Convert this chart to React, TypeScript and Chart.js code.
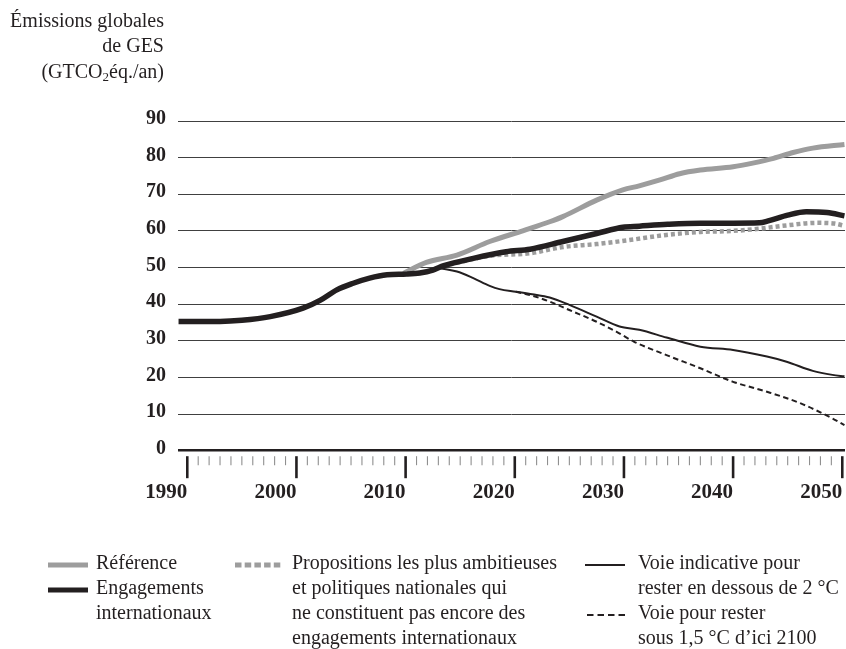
import React, { useEffect, useRef } from 'react';
import { Chart, registerables } from 'chart.js';

Chart.register(...registerables);

// ---- Data ----
const ENG_YEARS = [1989.2, 1993, 1995, 1997.6, 2000.6, 2002.2, 2003.7, 2005.2, 2006.7, 2008.3, 2010.1, 2011.3, 2012.5, 2013.5, 2016.2, 2019.2, 2021.4, 2024.4, 2027.5, 2029.9, 2031.4, 2034, 2037, 2040, 2042.4, 2043.3, 2045, 2046.7, 2048.6, 2050.2];
const ENG_VALUES = [35.3, 35.3, 35.6, 36.6, 38.9, 41.1, 43.9, 45.7, 47.1, 48.0, 48.2, 48.5, 49.3, 50.5, 52.5, 54.3, 55.0, 57.1, 59.3, 61.0, 61.3, 61.8, 62.1, 62.1, 62.2, 62.8, 64.3, 65.2, 65.0, 64.1];

const REF_YEARS = [2009.8, 2011.9, 2014.7, 2017.7, 2020.8, 2023.2, 2024.4, 2027.5, 2029.9, 2031.4, 2033.3, 2035.1, 2037, 2040, 2041.8, 2043.7, 2045.5, 2047.3, 2050.2];
const REF_VALUES = [48.4, 51.4, 53.4, 57.1, 60.1, 62.5, 63.9, 68.4, 71.2, 72.3, 73.9, 75.6, 76.6, 77.5, 78.5, 79.8, 81.4, 82.6, 83.6];

const PROP_YEARS = [2014, 2017.7, 2021.4, 2024.4, 2027.5, 2030.5, 2033.9, 2037, 2040, 2042.4, 2044.9, 2047.7, 2049.3, 2050.2];
const PROP_VALUES = [50.8, 53.2, 53.9, 55.6, 56.4, 57.5, 58.9, 59.7, 60.0, 60.6, 61.5, 62.2, 62.0, 61.4];

const C2_YEARS = [2013.2, 2014.7, 2016.2, 2017.7, 2018.6, 2020.1, 2021.6, 2023.2, 2025, 2027.5, 2029.6, 2031.4, 2033.9, 2037, 2040, 2043.1, 2044.9, 2047.3, 2049.1, 2050.2];
const C2_VALUES = [49.8, 48.9, 47.1, 45.0, 44.1, 43.4, 42.7, 41.8, 39.8, 36.6, 33.9, 33.0, 30.9, 28.4, 27.5, 25.7, 24.3, 21.8, 20.7, 20.3];

const C15_YEARS = [2020.1, 2021.6, 2023.2, 2025, 2027.5, 2029.3, 2030.9, 2033.9, 2037, 2040, 2043.1, 2046.2, 2049.1, 2050.2];
const C15_VALUES = [43.4, 42.3, 40.7, 38.4, 35.2, 32.5, 29.8, 26.1, 22.5, 18.8, 16.1, 12.9, 8.8, 7.0];

const Y_TICKS = [0, 10, 20, 30, 40, 50, 60, 70, 80, 90];
const X_TICKS = [1990, 2000, 2010, 2020, 2030, 2040, 2050];

const TITLE_LINES = ['Émissions globales', 'de GES'];
const LEGEND_REF = ['Référence'];
const LEGEND_ENG = ['Engagements', 'internationaux'];
const LEGEND_PROP = ['Propositions les plus ambitieuses', 'et politiques nationales qui', 'ne constituent pas encore des', 'engagements internationaux'];
const LEGEND_2C = ['Voie indicative pour', 'rester en dessous de 2 °C'];
const LEGEND_15C = ['Voie pour rester', 'sous 1,5 °C d’ici 2100'];

const FONT = "'Liberation Serif', 'Times New Roman', serif";
const INK = '#231f20';
const GREY = '#9d9d9d';

const toPts = (xs: number[], ys: number[]) => xs.map((x, i) => ({ x, y: ys[i] }));

const yearTicksPlugin = {
  id: 'yearTicks',
  afterDraw(chart: any) {
    const xs = chart.scales.x;
    const b = chart.chartArea.bottom;
    const ctx = chart.ctx;
    ctx.save();
    for (let yr = X_TICKS[0]; yr <= X_TICKS[X_TICKS.length - 1]; yr++) {
      const major = X_TICKS.includes(yr);
      const px = xs.getPixelForValue(yr);
      ctx.beginPath();
      ctx.strokeStyle = major ? INK : '#8f8f8f';
      ctx.lineWidth = major ? 2.6 : 1.1;
      ctx.moveTo(px, b + 5.5);
      ctx.lineTo(px, major ? b + 27.5 : b + 14.5);
      ctx.stroke();
    }
    ctx.restore();
  },
};

const ROW_H = 25;
const LEG_TOP = 550;

function LegendText({ lines, left, row }: { lines: string[]; left: number; row: number }) {
  return (
    <div style={{ position: 'absolute', left, top: LEG_TOP + row * ROW_H, fontSize: 20, lineHeight: ROW_H + 'px', color: INK, whiteSpace: 'nowrap' }}>
      {lines.map((l, i) => (
        <div key={i}>{l}</div>
      ))}
    </div>
  );
}

function Sample({ left, row, width, color, lw, dash }: { left: number; row: number; width: number; color: string; lw: number; dash?: string }) {
  const cy = LEG_TOP + row * ROW_H + 14.5;
  return (
    <svg style={{ position: 'absolute', left, top: cy - 5 }} width={width} height={10}>
      <line x1={0} y1={5} x2={width} y2={5} stroke={color} strokeWidth={lw} strokeDasharray={dash} />
    </svg>
  );
}

export default function App() {
  const canvasRef = useRef<HTMLCanvasElement | null>(null);

  useEffect(() => {
    const canvas = canvasRef.current;
    if (!canvas) return;
    const common = {
      pointRadius: 0,
      pointHoverRadius: 0,
      fill: false,
      tension: 0.4,
      cubicInterpolationMode: 'monotone' as const,
      borderCapStyle: 'butt' as const,
    };
    const chart = new Chart(canvas, {
      type: 'line',
      data: {
        datasets: [
          { ...common, label: 'Engagements internationaux', data: toPts(ENG_YEARS, ENG_VALUES), borderColor: INK, borderWidth: 5.5, order: 1 },
          { ...common, label: 'Voie indicative pour rester en dessous de 2 °C', data: toPts(C2_YEARS, C2_VALUES), borderColor: INK, borderWidth: 2, order: 2 },
          { ...common, label: 'Voie pour rester sous 1,5 °C d’ici 2100', data: toPts(C15_YEARS, C15_VALUES), borderColor: INK, borderWidth: 2, borderDash: [5.5, 3.5], order: 3 },
          { ...common, label: 'Propositions les plus ambitieuses et politiques nationales', data: toPts(PROP_YEARS, PROP_VALUES), borderColor: GREY, borderWidth: 4.5, borderDash: [4, 3], order: 4 },
          { ...common, label: 'Référence', data: toPts(REF_YEARS, REF_VALUES), borderColor: GREY, borderWidth: 5, order: 5 },
        ],
      },
      options: {
        animation: false,
        responsive: false,
        maintainAspectRatio: false,
        devicePixelRatio: 1,
        events: [],
        layout: { padding: { left: 0, right: 1, top: 121, bottom: 138.3 } },
        plugins: { legend: { display: false }, tooltip: { enabled: false }, title: { display: false } },
        scales: {
          x: {
            type: 'linear',
            min: 1989.15,
            max: 2050.25,
            afterBuildTicks: (s: any) => {
              s.ticks = X_TICKS.map((v) => ({ value: v }));
            },
            afterFit: (s: any) => {
              s.height = 60;
              s.paddingLeft = 0;
              s.paddingRight = 0;
            },
            border: { display: false },
            grid: { display: false, drawTicks: false },
            ticks: {
              font: { family: FONT, size: 21, weight: 'bold' },
              color: INK,
              padding: 29,
              align: 'end',
              maxRotation: 0,
              autoSkip: false,
              callback: (v: any) => String(v),
            },
          },
          y: {
            min: 0,
            max: 90,
            afterBuildTicks: (s: any) => {
              s.ticks = Y_TICKS.map((v) => ({ value: v }));
            },
            afterFit: (s: any) => {
              s.width = 178;
            },
            border: { display: false },
            grid: {
              drawTicks: false,
              color: (c: any) => (c.tick && c.tick.value === 0 ? INK : '#404040'),
              lineWidth: (c: any) => (c.tick && c.tick.value === 0 ? 2.6 : 1),
            },
            ticks: {
              font: { family: FONT, size: 20, weight: 'bold' },
              color: INK,
              padding: 12,
              labelOffset: -2,
            },
          },
        },
      },
      plugins: [yearTicksPlugin],
    } as any);
    return () => chart.destroy();
  }, []);

  return (
    <div style={{ position: 'absolute', left: 0, top: 0, width: 846, height: 649, fontFamily: FONT, color: INK, background: '#fff', overflow: 'hidden' }}>
      <canvas ref={canvasRef} width={846} height={649} style={{ display: 'block', position: 'absolute', left: 0, top: 0 }} />
      <div style={{ position: 'absolute', left: 0, top: 8, width: 164, textAlign: 'right', fontSize: 20, lineHeight: '25.3px', whiteSpace: 'nowrap' }}>
        {TITLE_LINES.map((l, i) => (
          <div key={i}>{l}</div>
        ))}
        <div>
          (GTCO<sub style={{ fontSize: 13, verticalAlign: '-3px', lineHeight: 0 }}>2</sub>éq./an)
        </div>
      </div>

      <Sample left={48} row={0} width={40} color={GREY} lw={5} />
      <Sample left={48} row={1} width={40} color={INK} lw={5} />
      <Sample left={235} row={0} width={47} color={GREY} lw={5} dash="6.5 3.2" />
      <Sample left={585} row={0} width={40} color={INK} lw={2} />
      <Sample left={587} row={2} width={38} color={INK} lw={2} dash="6.5 4" />

      <LegendText lines={LEGEND_REF} left={96} row={0} />
      <LegendText lines={LEGEND_ENG} left={96} row={1} />
      <LegendText lines={LEGEND_PROP} left={292} row={0} />
      <LegendText lines={LEGEND_2C} left={638} row={0} />
      <LegendText lines={LEGEND_15C} left={638} row={2} />
    </div>
  );
}
